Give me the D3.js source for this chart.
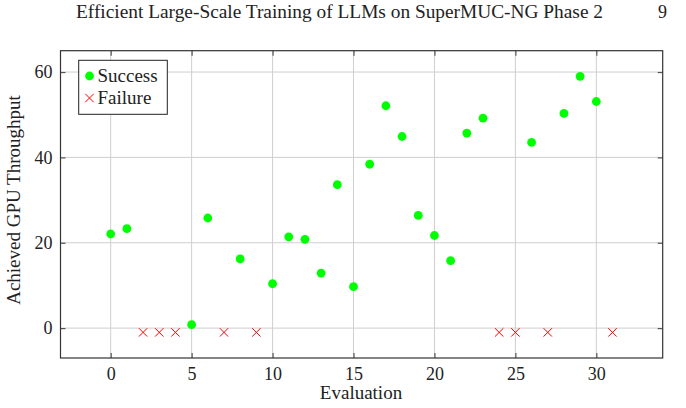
<!DOCTYPE html>
<html>
<head>
<meta charset="utf-8">
<script src="https://cdn.jsdelivr.net/npm/d3@7"></script>
<style>
  body { margin: 0; background: #fff; }
  svg { display: block; }
</style>
</head>
<body>
<svg id="drawing_region"></svg>
<script>
// evaluations that finished, with their throughput
const successX = [0, 1, 5, 6, 8, 10, 11, 12, 13, 14, 15, 16, 17, 18, 19, 20, 21, 22, 23, 26, 28, 29, 30];
const successY = [22.1, 23.3, 0.8, 25.8, 16.2, 10.4, 21.4, 20.8, 12.9, 33.6, 9.7, 38.4, 52.1, 44.9, 26.4, 21.7, 15.8, 45.7, 49.2, 43.5, 50.3, 59.0, 53.1];
// failed evaluations are plotted at -1
const failureX = [2, 3, 4, 7, 9, 24, 25, 27, 31];
const failureY = [-1, -1, -1, -1, -1, -1, -1, -1, -1];

const xTicks = [0, 5, 10, 15, 20, 25, 30];
const yTicks = [0, 20, 40, 60];
const legendLabels = ['Success', 'Failure'];

const FONT = 'Liberation Serif, DejaVu Serif, serif';

const config = {
    width: 686,
    height: 408,
    left: 60.5, right: 662.7, top: 50.7, bottom: 358
};

const svg = d3.select('#drawing_region')
    .attr('width', config.width)
    .attr('height', config.height)
    .attr('font-family', FONT);

// running header
svg.append('text')
    .attr('x', 76).attr('y', 18)
    .attr('font-family', FONT)
    .attr('font-size', '18px')
    .attr('textLength', 527)
    .attr('lengthAdjust', 'spacingAndGlyphs')
    .attr('fill', '#222')
    .text('Efficient Large-Scale Training of LLMs on SuperMUC-NG Phase 2');
svg.append('text')
    .attr('x', 667).attr('y', 18)
    .attr('font-family', FONT)
    .attr('font-size', '18px')
    .attr('text-anchor', 'end')
    .attr('fill', '#222')
    .text('9');

const x = d3.scaleLinear().domain([-3.1, 34.1]).range([config.left, config.right]);
const y = d3.scaleLinear().domain([-7, 65]).range([config.bottom, config.top]);

// grid
svg.append('g').selectAll('line')
    .data(xTicks).enter().append('line')
    .attr('x1', d => x(d)).attr('x2', d => x(d))
    .attr('y1', config.top).attr('y2', config.bottom)
    .attr('stroke', '#cfcfcf').attr('stroke-width', 1);
svg.append('g').selectAll('line')
    .data(yTicks).enter().append('line')
    .attr('x1', config.left).attr('x2', config.right)
    .attr('y1', d => y(d)).attr('y2', d => y(d))
    .attr('stroke', '#cfcfcf').attr('stroke-width', 1);

// axes with inward ticks on all four sides
const tickLen = 5;
const axes = [
    svg.append('g')
        .attr('transform', `translate(0,${config.bottom})`)
        .call(d3.axisBottom(x).tickValues(xTicks).tickSizeInner(-tickLen).tickSizeOuter(0).tickPadding(9)),
    svg.append('g')
        .attr('transform', `translate(0,${config.top})`)
        .call(d3.axisTop(x).tickValues(xTicks).tickSizeInner(-tickLen).tickSizeOuter(0).tickFormat('')),
    svg.append('g')
        .attr('transform', `translate(${config.left},0)`)
        .call(d3.axisLeft(y).tickValues(yTicks).tickSizeInner(-tickLen).tickSizeOuter(0).tickPadding(8)),
    svg.append('g')
        .attr('transform', `translate(${config.right},0)`)
        .call(d3.axisRight(y).tickValues(yTicks).tickSizeInner(-tickLen).tickSizeOuter(0).tickFormat(''))
];
axes.forEach(g => {
    g.select('.domain').remove();
    g.attr('font-family', FONT).attr('font-size', 18);
    g.selectAll('.tick line').attr('stroke', '#555').attr('stroke-width', 1.2);
    g.selectAll('.tick text')
        .attr('font-family', FONT)
        .attr('font-size', '18px')
        .attr('fill', '#222');
});

// frame
svg.append('rect')
    .attr('x', config.left).attr('y', config.top)
    .attr('width', config.right - config.left)
    .attr('height', config.bottom - config.top)
    .attr('fill', 'none')
    .attr('stroke', '#333').attr('stroke-width', 1.2);

// success points
svg.append('g').selectAll('circle')
    .data(successX.map((d, i) => [d, successY[i]]))
    .enter().append('circle')
    .attr('cx', d => x(d[0]))
    .attr('cy', d => y(d[1]))
    .attr('r', 4.4)
    .attr('fill', '#00ff00');

// failure crosses
const cross = (g, s) => g.append('path')
    .attr('d', `M${-s},${-s}L${s},${s}M${-s},${s}L${s},${-s}`)
    .attr('stroke', '#ff0000').attr('stroke-width', 1).attr('fill', 'none');

svg.append('g').selectAll('g')
    .data(failureX.map((d, i) => [d, failureY[i]]))
    .enter().append('g')
    .attr('transform', d => `translate(${x(d[0])},${y(d[1])})`)
    .each(function () { cross(d3.select(this), 4.2); });

// axis labels
svg.append('text')
    .attr('x', 361)
    .attr('y', 399)
    .attr('text-anchor', 'middle')
    .attr('font-family', FONT)
    .attr('font-size', '19px')
    .attr('fill', '#222')
    .text('Evaluation');
svg.append('text')
    .attr('transform', 'translate(20,200) rotate(-90)')
    .attr('text-anchor', 'middle')
    .attr('font-family', FONT)
    .attr('font-size', '19px')
    .attr('fill', '#222')
    .text('Achieved GPU Throughput');

// legend
const legend = svg.append('g');
legend.append('rect')
    .attr('x', 78.7).attr('y', 60.3)
    .attr('width', 88.6).attr('height', 54)
    .attr('fill', '#fff')
    .attr('stroke', '#222').attr('stroke-width', 1);
legend.append('circle')
    .attr('cx', 89.5).attr('cy', 76)
    .attr('r', 4.4)
    .attr('fill', '#00ff00');
cross(legend.append('g').attr('transform', 'translate(89.5,98)'), 4.2);
legend.selectAll('text.lbl')
    .data(legendLabels).enter().append('text')
    .attr('class', 'lbl')
    .attr('x', 97.5)
    .attr('y', (d, i) => 81.5 + i * 22)
    .attr('font-family', FONT)
    .attr('font-size', '19px')
    .attr('fill', '#222')
    .text(d => d);
</script>
</body>
</html>
